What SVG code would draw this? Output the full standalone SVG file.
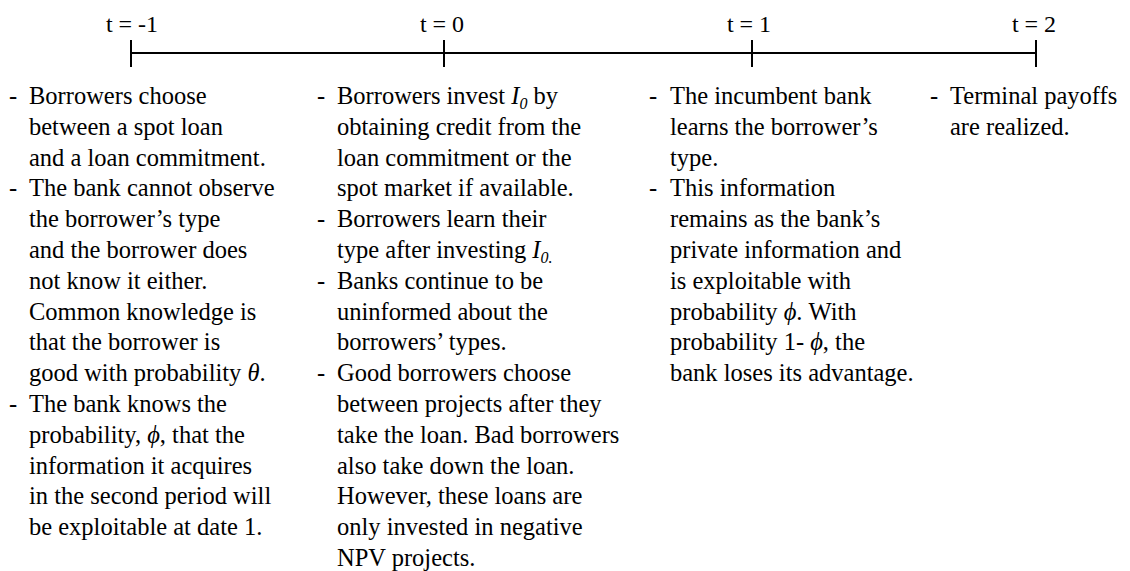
<svg xmlns="http://www.w3.org/2000/svg" width="1130" height="571" viewBox="0 0 1130 571">
<style>
text{font-family:"Liberation Serif","Times New Roman",serif;font-size:24.5px;fill:#000}
.lbl{text-anchor:middle;font-size:24px}
.i{font-style:italic}
.sub{font-style:italic;font-size:16px}
.tl{stroke:#000;stroke-width:2;fill:none}
</style>
<rect width="1130" height="571" fill="#fff"/>
<g id="timeline">
<line class="tl" x1="131" y1="53" x2="1036" y2="53"/>
<line class="tl" x1="131" y1="40" x2="131" y2="67"/>
<line class="tl" x1="444" y1="40" x2="444" y2="67"/>
<line class="tl" x1="752" y1="40" x2="752" y2="67"/>
<line class="tl" x1="1036" y1="40" x2="1036" y2="67"/>
<text class="lbl" x="132" y="32">t = -1</text>
<text class="lbl" x="442" y="32">t = 0</text>
<text class="lbl" x="749" y="32">t = 1</text>
<text class="lbl" x="1034" y="32">t = 2</text>
</g>
<g id="col-tm1">
<text x="9" y="104">-</text>
<text x="9" y="196.4">-</text>
<text x="9" y="412">-</text>
<text x="29" y="104">Borrowers choose</text>
<text x="29" y="134.8">between a spot loan</text>
<text x="29" y="165.6">and a loan commitment.</text>
<text x="29" y="196.4">The bank cannot observe</text>
<text x="29" y="227.2">the borrower’s type</text>
<text x="29" y="258">and the borrower does</text>
<text x="29" y="288.8">not know it either.</text>
<text x="29" y="319.6">Common knowledge is</text>
<text x="29" y="350.4">that the borrower is</text>
<text x="29" y="381.2">good with probability <tspan class="i">θ</tspan>.</text>
<text x="29" y="412">The bank knows the</text>
<text x="29" y="442.8">probability, <tspan class="i">ϕ</tspan>, that the</text>
<text x="29" y="473.6">information it acquires</text>
<text x="29" y="504.4">in the second period will</text>
<text x="29" y="535.2">be exploitable at date 1.</text>
</g>
<g id="col-t0">
<text x="317" y="104">-</text>
<text x="317" y="227.2">-</text>
<text x="317" y="288.8">-</text>
<text x="317" y="381.2">-</text>
<text x="337" y="104">Borrowers invest <tspan class="i">I</tspan><tspan class="sub" dy="5">0</tspan><tspan dy="-5"> by</tspan></text>
<text x="337" y="134.8">obtaining credit from the</text>
<text x="337" y="165.6">loan commitment or the</text>
<text x="337" y="196.4">spot market if available.</text>
<text x="337" y="227.2">Borrowers learn their</text>
<text x="337" y="258">type after investing <tspan class="i">I</tspan><tspan class="sub" dy="5">0.</tspan></text>
<text x="337" y="288.8">Banks continue to be</text>
<text x="337" y="319.6">uninformed about the</text>
<text x="337" y="350.4">borrowers’ types.</text>
<text x="337" y="381.2">Good borrowers choose</text>
<text x="337" y="412">between projects after they</text>
<text x="337" y="442.8">take the loan. Bad borrowers</text>
<text x="337" y="473.6">also take down the loan.</text>
<text x="337" y="504.4">However, these loans are</text>
<text x="337" y="535.2">only invested in negative</text>
<text x="337" y="566">NPV projects.</text>
</g>
<g id="col-t1">
<text x="649" y="104">-</text>
<text x="649" y="196.4">-</text>
<text x="670" y="104">The incumbent bank</text>
<text x="670" y="134.8">learns the borrower’s</text>
<text x="670" y="165.6">type.</text>
<text x="670" y="196.4">This information</text>
<text x="670" y="227.2">remains as the bank’s</text>
<text x="670" y="258">private information and</text>
<text x="670" y="288.8">is exploitable with</text>
<text x="670" y="319.6">probability <tspan class="i">ϕ</tspan>. With</text>
<text x="670" y="350.4">probability 1- <tspan class="i">ϕ</tspan>, the</text>
<text x="670" y="381.2">bank loses its advantage.</text>
</g>
<g id="col-t2">
<text x="930" y="104">-</text>
<text x="950" y="104">Terminal payoffs</text>
<text x="950" y="134.8">are realized.</text>
</g>
</svg>
